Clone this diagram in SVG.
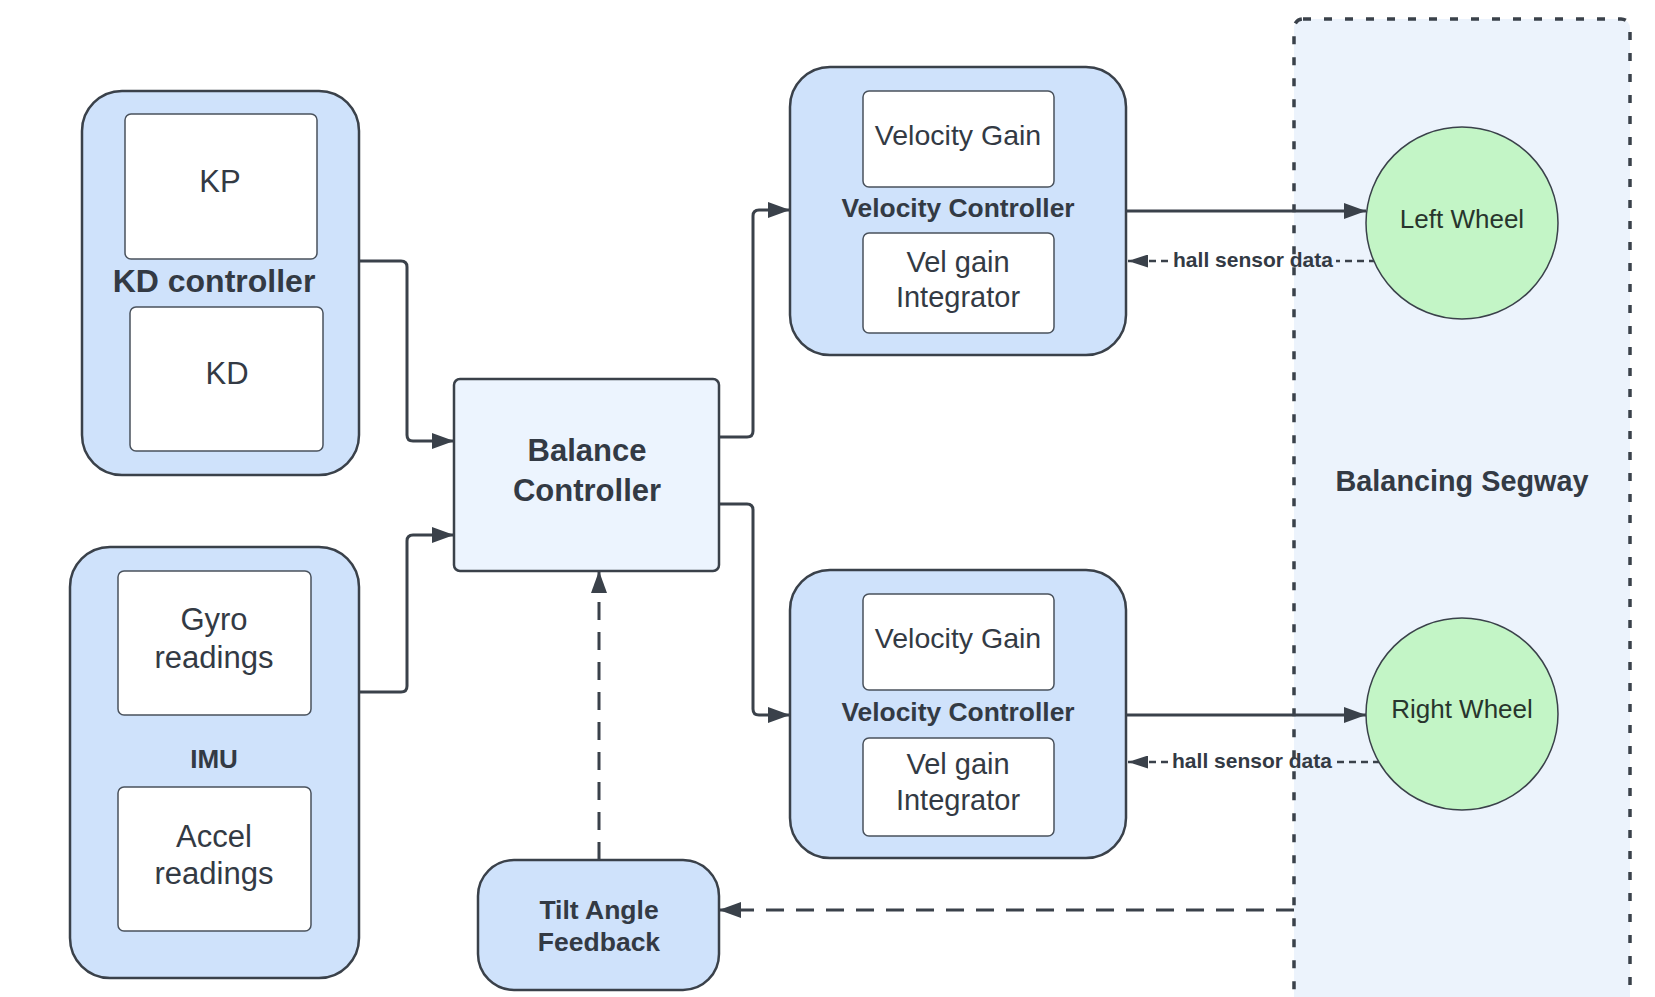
<svg xmlns="http://www.w3.org/2000/svg" width="1655" height="997" viewBox="0 0 1655 997">
<defs>
<marker id="arr" viewBox="0 0 10 10" refX="10" refY="5" markerUnits="userSpaceOnUse" markerWidth="22" markerHeight="16" orient="auto" preserveAspectRatio="none"><path d="M0,0 L10,5 L0,10 z" fill="#3a414a"/></marker>
<marker id="arrS" viewBox="0 0 10 10" refX="10" refY="5" markerUnits="userSpaceOnUse" markerWidth="20" markerHeight="13" orient="auto" preserveAspectRatio="none"><path d="M0,0 L10,5 L0,10 z" fill="#3a414a"/></marker>
</defs>
<style>
.outer{fill:#cfe2fb;stroke:#3a414a;stroke-width:2.5}
.inner{fill:#ffffff;stroke:#4a525c;stroke-width:1.5}
.t{font-family:"Liberation Sans",Arial,sans-serif;fill:#333a44;text-anchor:middle}
.b{font-weight:bold}
.conn{fill:none;stroke:#3a414a;stroke-width:3}
.dash{fill:none;stroke:#3a414a;stroke-width:3;stroke-dasharray:18 12}
.hall{fill:none;stroke:#3a414a;stroke-width:2.5;stroke-dasharray:7 5}
.wheel{fill:#c3f5c6;stroke:#3a414a;stroke-width:1.5}
</style>
<rect x="0" y="0" width="1655" height="997" fill="#ffffff"/>

<g id="segway">
<rect x="1294" y="19" width="336" height="1010" rx="9" fill="#ecf3fc" stroke="#3a414a" stroke-width="3.5" stroke-dasharray="8 13"/>
<text class="t b" x="1462" y="491" font-size="28.8">Balancing Segway</text>
</g>

<g id="kd-controller">
<rect class="outer" x="82" y="91" width="277" height="384" rx="40"/>
<rect class="inner" x="125" y="114" width="192" height="145" rx="6"/>
<rect class="inner" x="130" y="307" width="193" height="144" rx="6"/>
<text class="t" x="220" y="192" font-size="31">KP</text>
<text class="t b" x="214" y="292" font-size="32">KD controller</text>
<text class="t" x="227" y="384" font-size="31">KD</text>
</g>

<g id="imu">
<rect class="outer" x="70" y="547" width="289" height="431" rx="40"/>
<rect class="inner" x="118" y="571" width="193" height="144" rx="6"/>
<rect class="inner" x="118" y="787" width="193" height="144" rx="6"/>
<text class="t" x="214" y="630" font-size="31">Gyro</text>
<text class="t" x="214" y="668" font-size="31">readings</text>
<text class="t b" x="214" y="768" font-size="26">IMU</text>
<text class="t" x="214" y="847" font-size="31">Accel</text>
<text class="t" x="214" y="884" font-size="31">readings</text>
</g>

<g id="balance-controller">
<rect x="454" y="379" width="265" height="192" rx="6" fill="#ecf4fe" stroke="#3a414a" stroke-width="2.5"/>
<text class="t b" x="587" y="461" font-size="31">Balance</text>
<text class="t b" x="587" y="501" font-size="31">Controller</text>
</g>

<g id="tilt-feedback">
<rect class="outer" x="478" y="860" width="241" height="130" rx="36"/>
<text class="t b" x="599" y="919" font-size="26.5">Tilt Angle</text>
<text class="t b" x="599" y="951" font-size="26.5">Feedback</text>
</g>

<g id="velocity-controller-top">
<rect class="outer" x="790" y="67" width="336" height="288" rx="40"/>
<rect class="inner" x="863" y="91" width="191" height="96" rx="6"/>
<rect class="inner" x="863" y="233" width="191" height="100" rx="6"/>
<text class="t" x="958" y="145" font-size="28.5">Velocity Gain</text>
<text class="t b" x="958" y="217" font-size="26.4">Velocity Controller</text>
<text class="t" x="958" y="272" font-size="29">Vel gain</text>
<text class="t" x="958" y="307" font-size="29">Integrator</text>
</g>

<g id="velocity-controller-bottom">
<rect class="outer" x="790" y="570" width="336" height="288" rx="40"/>
<rect class="inner" x="863" y="594" width="191" height="96" rx="6"/>
<rect class="inner" x="863" y="738" width="191" height="98" rx="6"/>
<text class="t" x="958" y="648" font-size="28.5">Velocity Gain</text>
<text class="t b" x="958" y="721" font-size="26.4">Velocity Controller</text>
<text class="t" x="958" y="774" font-size="29">Vel gain</text>
<text class="t" x="958" y="810" font-size="29">Integrator</text>
</g>

<g id="connectors">
<path class="conn" d="M359,261 H401 Q407,261 407,267 V435 Q407,441 413,441 H454" marker-end="url(#arr)"/>
<path class="conn" d="M359,692 H401 Q407,692 407,686 V541 Q407,535 413,535 H454" marker-end="url(#arr)"/>
<path class="conn" d="M719,437 H747 Q753,437 753,431 V216 Q753,210 759,210 H790" marker-end="url(#arr)"/>
<path class="conn" d="M719,504 H747 Q753,504 753,510 V709 Q753,715 759,715 H790" marker-end="url(#arr)"/>
<path class="conn" stroke-width="2.5" d="M1126,211 H1366" marker-end="url(#arr)"/>
<path class="conn" stroke-width="2.5" d="M1126,715 H1366" marker-end="url(#arr)"/>
<path class="hall" d="M1376,261 H1336"/>
<path class="hall" d="M1168,261 H1128" marker-end="url(#arrS)"/>
<text class="t b" x="1253" y="267" font-size="21">hall sensor data</text>
<path class="hall" d="M1380,762 H1336"/>
<path class="hall" d="M1168,762 H1128" marker-end="url(#arrS)"/>
<text class="t b" x="1252" y="768" font-size="21">hall sensor data</text>
<path class="dash" d="M599,860 V571" marker-end="url(#arr)"/>
<path class="dash" d="M1294,910 H719" marker-end="url(#arr)"/>
</g>

<g id="left-wheel">
<circle class="wheel" cx="1462" cy="223" r="96"/>
<text class="t" x="1462" y="228" font-size="26" style="fill:#28352d">Left Wheel</text>
</g>

<g id="right-wheel">
<circle class="wheel" cx="1462" cy="714" r="96"/>
<text class="t" x="1462" y="718" font-size="26" style="fill:#28352d">Right Wheel</text>
</g>
</svg>
